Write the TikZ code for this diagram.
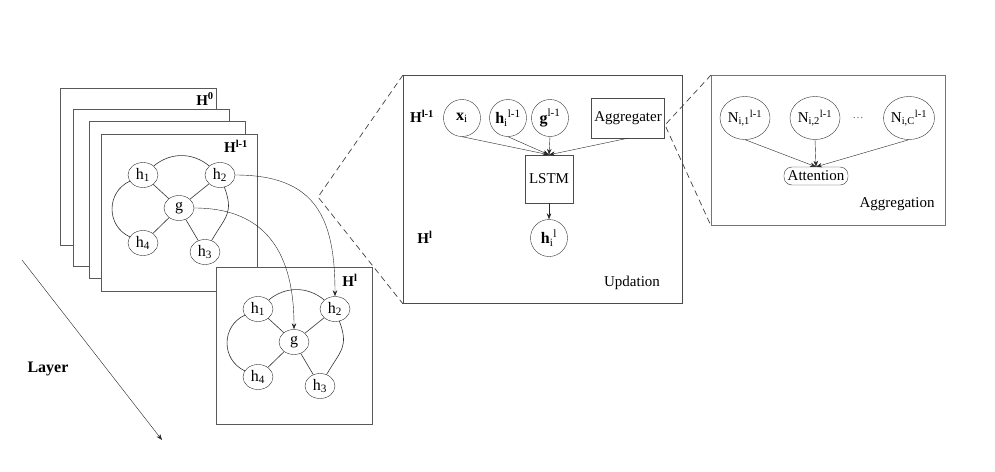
\documentclass[tikz,border=0pt]{standalone}
\usepackage{fontspec}
\setmainfont{Liberation Serif}
\usepackage{xcolor}
\usetikzlibrary{arrows.meta,positioning,shapes.geometric}
\definecolor{aggblue}{HTML}{4A7DB0}

\begin{document}
\begin{tikzpicture}[x=1pt, y=1pt,
  font=\fontsize{15}{18}\selectfont,
  layerbox/.style={draw=black!65, line width=0.9pt, fill=white, minimum width=156pt, minimum height=157pt, inner sep=0pt, anchor=north west},
  gnode/.style={draw=black!80, ellipse, fill=white, minimum width=30pt, minimum height=25pt, inner sep=0pt, font=\fontsize{16}{18}\selectfont},
  cell/.style={draw=black!80, circle, minimum size=37pt, inner sep=0pt, font=\fontsize{16}{18}\selectfont},
  nbr/.style={draw=black!80, ellipse, minimum width=50pt, minimum height=43pt, inner sep=0pt, font=\fontsize{15}{17}\selectfont},
  opbox/.style={draw=black!70, rectangle, inner sep=1pt},
  arrow/.style={-{Stealth[length=6pt,width=4.5pt]}, black!85},
  edge/.style={black!80, line width=0.6pt},
  zoomline/.style={dash pattern=on 6pt off 4pt, black!75, line width=0.7pt},
  hlabel/.style={font=\fontsize{15}{18}\selectfont\bfseries}
]
\useasboundingbox (0,0) rectangle (995,-471);

% stacked layers
\node[layerbox] (lay0) at (60,-88) {};
\node[layerbox] (lay1) at (73,-109) {};
\node[layerbox] (lay2) at (89,-121) {};
\node[layerbox] (lay3) at (101,-134) {};
\node[layerbox] (layl) at (216,-267) {};
\node[hlabel] (lab0) at (205,-99) {H\textsuperscript{0}};
\node[hlabel] (lab1) at (236,-146) {H\textsuperscript{l-1}};
\node[hlabel] (lab2) at (350,-280) {H\textsuperscript{l}};

% the same graph in layer l-1 and layer l
\foreach \s/\dx/\dy in {a/0/0, b/115/-134} {
  \begin{scope}[shift={(\dx,\dy)}]
    \node[gnode] (h1\s) at (143,-175) {h\textsubscript{1}};
    \node[gnode] (h2\s) at (220,-175) {h\textsubscript{2}};
    \node[gnode] (g\s) at (179,-208) {g};
    \node[gnode] (h4\s) at (143,-243) {h\textsubscript{4}};
    \node[gnode] (h3\s) at (205,-252) {h\textsubscript{3}};
  \end{scope}
  \draw[edge] (h1\s) -- (g\s);
  \draw[edge] (h2\s) -- (g\s);
  \draw[edge] (g\s) -- (h4\s);
  \draw[edge] (g\s) -- (h3\s);
  \draw[edge] (h1\s) to[out=40, in=140] (h2\s);
  \draw[edge] (h1\s) to[out=205, in=155, looseness=1.2] (h4\s);
  \draw[edge] (h2\s) to[out=-70, in=60, looseness=1.3] (h3\s);
}
\draw[arrow] (h2a.east) to[out=0, in=90, looseness=1.3] (h2b.north);
\draw[arrow] (ga.east) to[out=0, in=90, looseness=1.2] (gb.north);

% layer direction
\coordinate (lyrS) at (22,-260);
\coordinate (lyrE) at (162,-440);
\draw[arrow] (lyrS) -- (lyrE);
\node[font=\fontsize{16}{18}\selectfont\bfseries] (lyrlab) at (48,-369) {Layer};

% updation
\node[draw=black!70, line width=0.9pt, minimum width=279pt, minimum height=228pt, inner sep=0pt, anchor=north west] (upd) at (403,-75) {};
\node[hlabel] (labm1) at (422,-116) {H\textsuperscript{l-1}};
\node[hlabel] (labm2) at (425,-237) {H\textsuperscript{l}};
\node[cell] (xi) at (462,-118) {\textbf{x}\textsubscript{i}};
\node[cell] (hi) at (508,-118) {\textbf{h}\textsubscript{i}\textsuperscript{l-1}};
\node[cell] (gi) at (550,-118) {\textbf{g}\textsuperscript{l-1}};
\node[opbox, minimum width=73pt, minimum height=40pt] (agg) at (628,-118) {Aggregater};
\node[opbox, minimum width=48pt, minimum height=48pt] (lstm) at (549,-179) {LSTM};
\node[cell] (hl) at (549,-238) {\textbf{h}\textsubscript{i}\textsuperscript{l}};
\node (updlab) at (632,-283) {Updation};
\draw[arrow] (xi.south) -- (lstm.north);
\draw[arrow] (hi.south) -- (lstm.north);
\draw[arrow] (gi.south) -- (lstm.north);
\draw[arrow] (agg.south) -- (lstm.north);
\draw[arrow] (lstm.south) -- (hl.north);

% aggregation
\node[draw=aggblue, line width=0.9pt, minimum width=234pt, minimum height=150pt, inner sep=0pt, anchor=north west] (aggr) at (711,-75) {};
\node[nbr] (n1) at (745,-118) {N\textsubscript{i,1}\textsuperscript{l-1}};
\node[nbr] (n2) at (815,-118) {N\textsubscript{i,2}\textsuperscript{l-1}};
\node[nbr] (nc) at (909,-118) {N\textsubscript{i,C}\textsuperscript{l-1}};
\node[text=black!60, font=\fontsize{11}{12}\selectfont] (ndots) at (858,-118) {\dots};
\node[draw=black!80, rounded corners=8pt, minimum width=64pt, minimum height=18pt, inner sep=1pt] (att) at (816,-176) {Attention};
\node (agglab) at (897,-204) {Aggregation};
\draw[arrow] (n1.south) -- (att.north);
\draw[arrow] (n2.south) -- (att.north);
\draw[arrow] (nc.south) -- (att.north);

% zoom lines
\coordinate (zoomA) at (318,-197);
\draw[zoomline] (upd.north west) -- (zoomA) -- (upd.south west);
\coordinate (zoomB) at (665,-125);
\draw[zoomline] (aggr.north west) -- (zoomB) -- (aggr.south west);
\end{tikzpicture}
\end{document}
